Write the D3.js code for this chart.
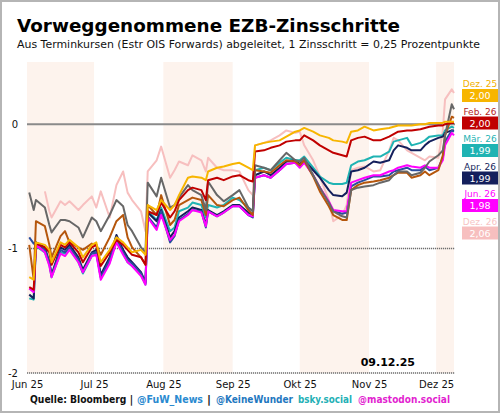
<!DOCTYPE html>
<html><head><meta charset="utf-8">
<script src="https://cdn.jsdelivr.net/npm/d3@7"></script>
<style>
html,body{margin:0;padding:0;background:#fff;}
svg{display:block;font-family:"DejaVu Sans",Verdana,sans-serif;}
</style></head>
<body><svg id="c" width="500" height="413"></svg>
<script>
const dates = ["2025-06-02","2025-06-04","2025-06-05","2025-06-09","2025-06-11","2025-06-12","2025-06-16","2025-06-18","2025-06-20","2025-06-24","2025-06-26","2025-06-30","2025-07-02","2025-07-04","2025-07-08","2025-07-11","2025-07-14","2025-07-16","2025-07-18","2025-07-22","2025-07-24","2025-07-25","2025-07-29","2025-07-31","2025-08-04","2025-08-06","2025-08-08","2025-08-12","2025-08-14","2025-08-18","2025-08-20","2025-08-21","2025-08-25","2025-08-28","2025-09-01","2025-09-04","2025-09-08","2025-09-10","2025-09-11","2025-09-15","2025-09-18","2025-09-22","2025-09-25","2025-09-29","2025-10-01","2025-10-03","2025-10-07","2025-10-10","2025-10-14","2025-10-16","2025-10-20","2025-10-22","2025-10-24","2025-10-27","2025-10-30","2025-11-03","2025-11-06","2025-11-10","2025-11-12","2025-11-14","2025-11-18","2025-11-20","2025-11-24","2025-11-26","2025-11-28","2025-12-02","2025-12-04","2025-12-05","2025-12-08","2025-12-09"];

// expected rate steps per contract month (Zinsschritte)
const dez26 = [null,null,null,-0.54,-0.70,-0.75,-0.62,-0.65,-0.62,-0.69,-0.65,-0.58,-0.67,-0.54,-0.75,-0.49,-0.38,-0.55,-0.61,-0.70,-0.86,-0.38,-0.29,-0.18,-0.43,-0.37,-0.30,-0.33,-0.25,-0.29,-0.38,-0.27,-0.35,-0.37,-0.37,-0.38,-0.53,-0.57,-0.17,-0.15,-0.13,-0.09,-0.05,-0.07,-0.06,-0.17,-0.29,-0.42,-0.61,-0.78,-0.73,-0.65,-0.37,-0.35,-0.34,-0.38,-0.37,-0.21,-0.11,-0.13,-0.21,-0.23,-0.27,-0.29,-0.26,-0.27,-0.05,0.20,0.28,0.25];
const mar26 = [-1.40,-1.41,-0.98,-1.03,-1.13,-1.23,-1.03,-1.04,-1.00,-1.11,-1.20,-1.06,-1.04,-1.23,-1.11,-0.93,-1.04,-1.11,-1.14,-1.21,-1.29,-0.70,-0.77,-0.67,-0.86,-0.83,-0.70,-0.67,-0.63,-0.65,-0.75,-0.65,-0.67,-0.65,-0.59,-0.61,-0.67,-0.70,-0.37,-0.35,-0.37,-0.31,-0.27,-0.29,-0.29,-0.26,-0.35,-0.42,-0.47,-0.48,-0.48,-0.47,-0.33,-0.30,-0.29,-0.26,-0.26,-0.22,-0.14,-0.13,-0.11,-0.17,-0.15,-0.13,-0.10,-0.09,-0.09,-0.05,-0.02,-0.03];
const apr26 = [-1.37,-1.40,-0.95,-0.99,-1.11,-1.21,-0.99,-1.01,-0.97,-1.07,-1.17,-1.03,-1.01,-1.21,-1.07,-0.89,-1.01,-1.07,-1.11,-1.19,-1.27,-0.71,-0.78,-0.69,-0.91,-0.86,-0.75,-0.70,-0.67,-0.69,-0.81,-0.69,-0.73,-0.70,-0.65,-0.65,-0.71,-0.73,-0.41,-0.38,-0.41,-0.35,-0.30,-0.29,-0.32,-0.29,-0.37,-0.43,-0.53,-0.57,-0.58,-0.55,-0.38,-0.37,-0.35,-0.30,-0.31,-0.29,-0.21,-0.17,-0.19,-0.21,-0.21,-0.17,-0.14,-0.11,-0.10,-0.07,-0.05,-0.05];
const sep26 = [-0.91,-0.96,-0.95,-1.01,-1.11,-1.22,-1.01,-1.03,-0.99,-1.09,-1.19,-1.04,-1.03,-1.23,-1.09,-0.91,-1.03,-1.09,-1.12,-1.20,-1.28,-0.74,-0.83,-0.70,-0.95,-0.90,-0.77,-0.72,-0.69,-0.70,-0.83,-0.70,-0.74,-0.71,-0.66,-0.66,-0.73,-0.75,-0.43,-0.41,-0.43,-0.37,-0.32,-0.31,-0.34,-0.30,-0.41,-0.51,-0.63,-0.70,-0.72,-0.71,-0.50,-0.47,-0.45,-0.42,-0.42,-0.41,-0.38,-0.37,-0.35,-0.37,-0.37,-0.34,-0.37,-0.35,-0.27,-0.14,-0.05,-0.06];
const jun26 = [-1.32,-1.35,-0.97,-1.03,-1.14,-1.23,-1.04,-1.06,-1.01,-1.11,-1.19,-1.06,-1.05,-1.25,-1.12,-0.95,-1.05,-1.11,-1.14,-1.22,-1.29,-0.75,-0.85,-0.73,-0.93,-0.89,-0.78,-0.73,-0.69,-0.71,-0.82,-0.70,-0.74,-0.71,-0.66,-0.66,-0.73,-0.74,-0.43,-0.41,-0.43,-0.37,-0.32,-0.31,-0.35,-0.31,-0.41,-0.51,-0.62,-0.69,-0.70,-0.70,-0.47,-0.45,-0.43,-0.41,-0.41,-0.38,-0.37,-0.35,-0.33,-0.34,-0.35,-0.33,-0.35,-0.35,-0.29,-0.17,-0.07,-0.09];
const jun27 = [-0.97,-1.25,-0.78,-0.82,-0.97,-1.07,-0.90,-0.86,-0.95,-0.99,-1.01,-0.96,-0.97,-1.05,-0.91,-0.78,-0.73,-0.91,-0.99,-1.07,-1.13,-0.65,-0.73,-0.57,-0.81,-0.77,-0.65,-0.61,-0.59,-0.61,-0.73,-0.57,-0.65,-0.66,-0.61,-0.59,-0.69,-0.73,-0.37,-0.38,-0.39,-0.33,-0.29,-0.30,-0.33,-0.29,-0.42,-0.54,-0.66,-0.73,-0.77,-0.77,-0.53,-0.49,-0.47,-0.46,-0.45,-0.43,-0.41,-0.39,-0.39,-0.43,-0.41,-0.38,-0.41,-0.37,-0.25,-0.09,0.06,0.05];
const dez27 = [-0.55,-0.69,-0.61,-0.67,-0.81,-0.87,-0.77,-0.77,-0.78,-0.83,-0.91,-0.75,-0.78,-0.86,-0.73,-0.61,-0.66,-0.81,-0.86,-0.99,-1.03,-0.47,-0.58,-0.43,-0.67,-0.65,-0.59,-0.49,-0.53,-0.57,-0.69,-0.46,-0.57,-0.62,-0.57,-0.53,-0.67,-0.70,-0.33,-0.35,-0.37,-0.29,-0.23,-0.29,-0.30,-0.27,-0.41,-0.51,-0.63,-0.70,-0.74,-0.75,-0.53,-0.51,-0.50,-0.49,-0.47,-0.45,-0.41,-0.38,-0.38,-0.41,-0.39,-0.35,-0.30,-0.25,-0.21,-0.09,0.16,0.12];
const feb26 = [-1.31,-1.33,-0.96,-0.99,-1.03,-1.13,-0.97,-0.99,-0.95,-1.03,-1.11,-0.99,-0.97,-1.14,-1.03,-0.93,-0.97,-1.01,-1.05,-1.07,-1.13,-0.70,-0.73,-0.63,-0.75,-0.70,-0.61,-0.53,-0.51,-0.53,-0.61,-0.45,-0.43,-0.45,-0.42,-0.41,-0.45,-0.46,-0.22,-0.21,-0.19,-0.17,-0.14,-0.13,-0.13,-0.09,-0.13,-0.17,-0.21,-0.23,-0.25,-0.26,-0.13,-0.11,-0.10,-0.13,-0.13,-0.10,-0.08,-0.06,-0.05,-0.05,-0.04,-0.03,-0.02,-0.01,-0.01,0.00,0.01,0.01];
const dez25 = [-1.23,-1.25,-0.95,-0.97,-1.01,-1.11,-0.95,-0.97,-0.93,-0.99,-1.07,-0.97,-0.95,-1.11,-1.01,-0.91,-0.95,-0.99,-1.03,-1.01,-1.05,-0.65,-0.69,-0.61,-0.69,-0.65,-0.57,-0.43,-0.42,-0.43,-0.45,-0.38,-0.35,-0.34,-0.32,-0.31,-0.35,-0.37,-0.17,-0.15,-0.14,-0.13,-0.10,-0.06,-0.05,-0.03,-0.06,-0.09,-0.11,-0.13,-0.14,-0.15,-0.06,-0.05,-0.02,-0.05,-0.04,-0.03,-0.02,-0.01,-0.01,-0.01,0.00,0.00,0.01,0.01,0.01,0.02,0.02,0.02];

// draw order (back to front)
const seriesNames  = ["Dez. 26","Mär. 26","Apr. 26","Sep. 26","Jun. 26","Jun. 27","Dez. 27","Feb. 26","Dez. 25"];
const seriesValues = [dez26, mar26, apr26, sep26, jun26, jun27, dez27, feb26, dez25];
const seriesColors = ["#f7bfbf","#1fb3b3","#141f5c","#2b4e9e","#ff00ff","#b5560c","#676767","#c00000","#f7b500"];

const legendLabels = ["Dez. 25","Feb. 26","Mär. 26","Apr. 26","Jun. 26","Dez. 26"];
const legendValues = ["2,00","2,00","1,99","1,99","1,98","2,06"];
const legendColors = ["#f7b500","#c00000","#1fb3b3","#141f5c","#ff00ff","#f7bfbf"];
const legendTextColors = ["#f2b000","#b51c1c","#1fb3b3","#141f5c","#ff00ff","#f7c4c4"];

const monthLabels = ["Jun 25","Jul 25","Aug 25","Sep 25","Okt 25","Nov 25","Dez 25"];
const yTicks = [0,-1,-2];
const shadedMonths = [["2025-06-01","2025-07-01"],["2025-08-01","2025-09-01"],["2025-10-01","2025-11-01"],["2025-12-01","2025-12-09"]];

const sourceParts = ["Quelle: Bloomberg |","@FuW_News","|","@KeineWunder","bsky.social","@mastodon.social"];
const sourceColors = ["#111","#2a8ad0","#111","#1f78c0","#22b0b5","#e21fd0"];

const parse = d3.utcParse("%Y-%m-%d");
const svg = d3.select("#c");
svg.append("rect").attr("x",1).attr("y",1).attr("width",498).attr("height",411)
  .attr("fill","#fff").attr("stroke","#b5b5b5").attr("stroke-width",2);

const x = d3.scaleUtc().domain([parse("2025-06-01"), parse("2025-12-09")]).range([27, 454]);
const y = d3.scaleLinear().domain([-2, 0.5]).range([373, 62]);

// shaded months
svg.append("g").selectAll("rect").data(shadedMonths).join("rect")
  .attr("x", d => x(parse(d[0]))).attr("width", d => x(parse(d[1])) - x(parse(d[0])))
  .attr("y", y(0.5)).attr("height", y(-2) - y(0.5)).attr("fill","#fdf3ed");

// grid lines
svg.append("g").selectAll("line").data(yTicks).join("line")
  .attr("x1", x.range()[0]).attr("x2", x.range()[1]+1)
  .attr("y1", d => y(d)).attr("y2", d => y(d))
  .attr("stroke", d => d === 0 ? "#8a8a8a" : "#6e6e6e")
  .attr("stroke-width", d => d === 0 ? 2 : 1.5)
  .attr("stroke-dasharray", d => d === 0 ? null : "1.2,0.8");

// axes
const monthTicks = d3.utcMonth.range(parse("2025-06-01"), parse("2025-12-02"));
const xAxis = d3.axisBottom(x).tickValues(monthTicks).tickSize(0).tickPadding(0)
  .tickFormat((d,i) => monthLabels[i]);
const gx = svg.append("g").attr("transform","translate(0,381)").call(xAxis);
gx.select(".domain").remove();
gx.selectAll("text").attr("font-size",10).attr("fill","#111").attr("font-family","DejaVu Sans").attr("dy","0.71em");

const yAxis = d3.axisLeft(y).tickValues(yTicks).tickSize(0).tickPadding(9).tickFormat(d => d === 0 ? "0" : "-" + Math.abs(d));
const gy = svg.append("g").attr("transform","translate(27,0)").call(yAxis);
gy.select(".domain").remove();
gy.selectAll("text").attr("font-size",10).attr("fill","#111").attr("font-family","DejaVu Sans");

// lines
const parsedDates = dates.map(parse);
const line = d3.line().defined(d => d[1] != null).x(d => x(d[0])).y(d => y(d[1]));
svg.append("g").selectAll("path").data(seriesValues).join("path")
  .attr("d", vals => line(vals.map((v,i) => [parsedDates[i], v])))
  .attr("fill","none").attr("stroke", (d,i) => seriesColors[i])
  .attr("stroke-width",2).attr("stroke-linejoin","round");

// legend
const lg = svg.append("g");
legendLabels.forEach((lab,i) => {
  const top = 89 + i*27.5;
  lg.append("text").attr("x",480).attr("y",top-2).attr("text-anchor","middle")
    .attr("font-size",9).attr("fill",legendTextColors[i]).text(lab);
  lg.append("rect").attr("x",462).attr("y",top).attr("width",36).attr("height",13).attr("fill",legendColors[i]);
  lg.append("text").attr("x",480).attr("y",top+10).attr("text-anchor","middle")
    .attr("font-size",9.5).attr("fill","#fff").text(legendValues[i]);
});

// titles
svg.append("text").attr("x",17).attr("y",32).attr("font-size",18).attr("font-weight","bold")
  .attr("fill","#000").attr("textLength",383).attr("lengthAdjust","spacingAndGlyphs")
  .text("Vorweggenommene EZB-Zinsschritte");
svg.append("text").attr("x",17).attr("y",48).attr("font-size",11.3)
  .attr("fill","#111").attr("textLength",463).attr("lengthAdjust","spacingAndGlyphs")
  .text("Aus Terminkursen (Estr OIS Forwards) abgeleitet, 1 Zinsschritt = 0,25 Prozentpunkte");

svg.append("text").attr("x",415).attr("y",366).attr("text-anchor","end").attr("font-size",11)
  .attr("font-weight","bold").attr("fill","#000").text("09.12.25");

// source line, each part placed separately
const srcX = [30, 137, 207, 216, 298, 358];
const srcW = [103, 66, 4, 77, 54, 92];
const sg = svg.append("g");
sourceParts.forEach((t,i) => {
  sg.append("text").attr("x",srcX[i]).attr("y",403).attr("font-size",10).attr("font-weight","bold")
    .attr("fill",sourceColors[i]).attr("textLength",srcW[i]).attr("lengthAdjust","spacingAndGlyphs").text(t);
});
</script></body></html>
